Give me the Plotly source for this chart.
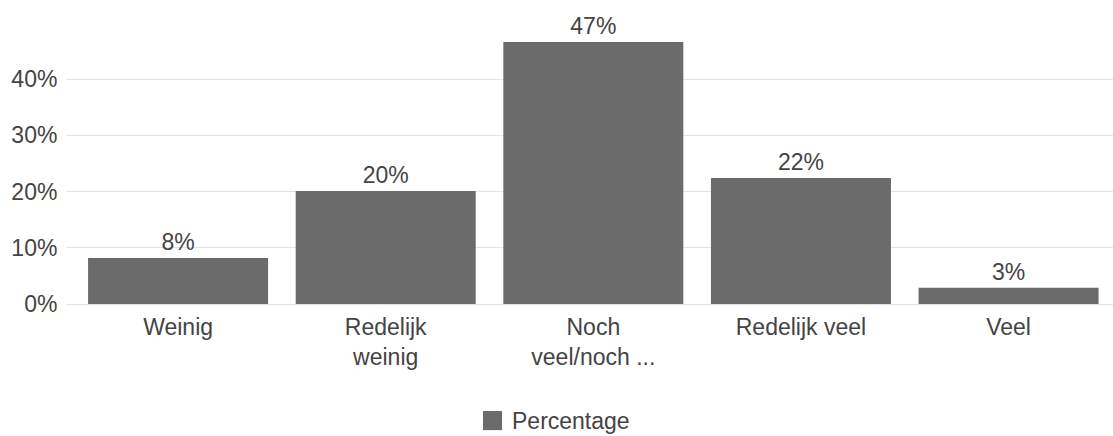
import plotly.graph_objects as go

categories = ["Weinig", "Redelijk<br>weinig", "Noch<br>veel/noch ...", "Redelijk veel", "Veel"]
percentages = [8.2, 20.1, 46.6, 22.4, 2.9]
series_name = "Percentage"
y_tick_values = [0, 10, 20, 30, 40]
y_tick_labels = ["0%", "10%", "20%", "30%", "40%"]

FONT = "Liberation Sans, Arial, sans-serif"
TXT = "#444444"
BAR = "#6b6b6b"
FS = 23

fig = go.Figure()
fig.add_trace(go.Bar(
    x=list(range(len(categories))),
    y=percentages,
    name=series_name,
    marker=dict(color=BAR, line=dict(width=0)),
    texttemplate="%{y:.0f}%",
    textposition="outside",
    cliponaxis=False,
    textfont=dict(family=FONT, size=FS, color=TXT),
    showlegend=False,
))

# legend (drawn manually so the swatch matches the reference size)
fig.add_shape(type="rect", xref="paper", yref="paper",
              x0=0.3977, x1=0.4159, y0=-0.429, y1=-0.364,
              fillcolor=BAR, line=dict(width=0))
fig.add_annotation(xref="paper", yref="paper", x=0.4235, y=-0.397,
                   xanchor="left", yanchor="middle", showarrow=False,
                   text=series_name, font=dict(family=FONT, size=FS, color=TXT))

fig.update_layout(
    width=1113, height=436,
    margin=dict(l=67, r=0, t=10, b=132),
    paper_bgcolor="white", plot_bgcolor="white",
    font=dict(family=FONT, size=FS, color=TXT),
    bargap=0.133,
    showlegend=False,
    xaxis=dict(
        tickmode="array",
        tickvals=list(range(len(categories))),
        ticktext=categories,
        range=[-0.535, 4.503],
        showgrid=False, zeroline=False, showline=False,
        ticks="outside", ticklen=2, tickcolor="rgba(0,0,0,0)",
        tickfont=dict(family=FONT, size=FS, color=TXT),
        automargin=False,
    ),
    yaxis=dict(
        range=[0, 52.3],
        tickmode="array",
        tickvals=y_tick_values,
        ticktext=y_tick_labels,
        showgrid=True, gridcolor="#e3e3e3", gridwidth=1,
        zeroline=True, zerolinecolor="#e3e3e3", zerolinewidth=1,
        showline=False,
        ticks="outside", ticklen=4, tickcolor="rgba(0,0,0,0)",
        tickfont=dict(family=FONT, size=FS, color=TXT),
        automargin=False,
    ),
)

fig.write_html("out.html")
